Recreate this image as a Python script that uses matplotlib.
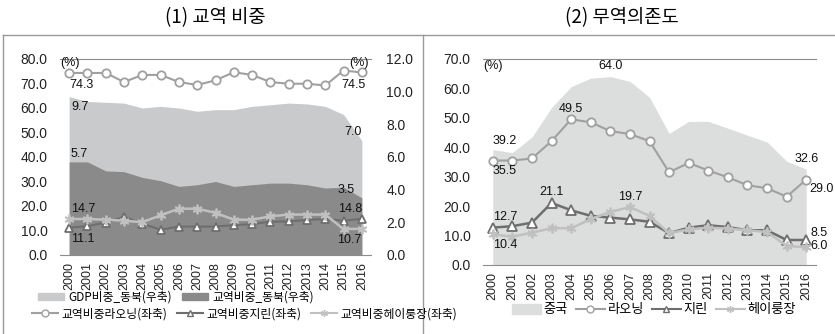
import matplotlib.pyplot as plt
from matplotlib.lines import Line2D
from matplotlib.patches import Patch

plt.rcParams['font.family'] = ['Liberation Sans', 'Noto Sans CJK KR', 'DejaVu Sans']

years = [str(y) for y in range(2000, 2017)]

# (1) 교역 비중 - 동북 3성 비중 (우축) 및 교역비중 (좌축)
gdp_share_ne = [9.7, 9.4, 9.35, 9.3, 9.0, 9.1, 9.0, 8.8, 8.9, 8.9, 9.1, 9.2, 9.3, 9.25, 9.1, 8.6, 7.0]
trade_share_ne = [5.7, 5.7, 5.15, 5.1, 4.75, 4.55, 4.2, 4.3, 4.5, 4.2, 4.3, 4.4, 4.4, 4.3, 4.1, 4.15, 3.5]
share_liaoning = [74.3, 74.3, 74.3, 70.6, 73.5, 73.5, 70.6, 69.4, 71.3, 74.6, 73.5, 70.6, 69.9, 69.9, 69.2, 75.3, 74.5]
share_jilin = [11.1, 11.8, 13.2, 15.5, 12.8, 10.3, 11.6, 11.6, 11.6, 12.2, 12.6, 13.6, 13.7, 14.3, 14.7, 14.0, 14.8]
share_heilong = [14.7, 14.7, 14.4, 14.0, 13.4, 16.2, 18.9, 18.9, 17.2, 14.4, 14.4, 15.8, 16.5, 16.5, 16.5, 10.6, 10.7]

# (2) 무역의존도
dep_china = [39.2, 38.2, 43.5, 53.5, 60.6, 63.5, 64.0, 62.4, 57.0, 44.7, 48.8, 48.8, 46.5, 44.1, 41.8, 35.3, 32.6]
dep_liaoning = [35.5, 35.5, 36.2, 42.1, 49.5, 48.5, 45.5, 44.5, 42.1, 31.5, 34.7, 32.1, 29.8, 27.1, 26.1, 23.2, 29.0]
dep_jilin = [12.7, 13.2, 14.4, 21.1, 18.6, 16.7, 16.1, 15.5, 14.7, 10.8, 12.7, 13.5, 12.9, 11.8, 11.8, 8.5, 8.5]
dep_heilong = [10.4, 9.6, 11.0, 12.5, 12.5, 15.6, 18.0, 19.7, 16.7, 10.8, 12.1, 12.7, 12.4, 11.8, 11.2, 6.5, 6.0]

W, H = 835, 334
x = list(range(len(years)))

c_light = '#c9cacc'
c_dark = '#8a8a8a'
c_china = '#dcdddd'
c_circ = '#a0a0a0'
c_tri = '#6e6e6e'
c_star = '#c0c0c0'
c_axis = '#8c8c8c'
kr = ['Noto Sans CJK KR', 'DejaVu Sans']


def px_axes(left, top, right, bottom):
    return fig.add_axes([left / W, 1 - bottom / H, (right - left) / W, (bottom - top) / H])


def style_axes(ax):
    for s in ['left', 'right']:
        ax.spines[s].set_visible(False)
    ax.spines['top'].set_color(c_axis)
    ax.spines['bottom'].set_color(c_axis)
    ax.tick_params(length=0, labelsize=10, colors='#222222')
    ax.set_xlim(-0.5, len(years) - 0.5)
    ax.set_xticks(x)
    ax.set_xticklabels(years, rotation=90, fontsize=9)
    ax.tick_params(axis='x', pad=5)


fig = plt.figure(figsize=(W / 100, H / 100), dpi=100)

# frame lines
fig.add_artist(Line2D([3 / W, 1], [1 - 35 / H, 1 - 35 / H], color='#999999', lw=1))
fig.add_artist(Line2D([3 / W, 3 / W], [0, 1 - 35 / H], color='#999999', lw=1))
fig.add_artist(Line2D([423 / W, 423 / W], [0, 1 - 35 / H], color='#999999', lw=1))

fig.text(215 / W, 1 - 18 / H, '(1) 교역 비중', ha='center', va='center', fontsize=13.5, family=kr)
fig.text(622 / W, 1 - 18 / H, '(2) 무역의존도', ha='center', va='center', fontsize=13.5, family=kr)

# ---- panel (1) ----
axr = px_axes(60, 59, 371, 255)
style_axes(axr)
axr.fill_between(x, 0, gdp_share_ne, color=c_light, lw=0)
axr.fill_between(x, 0, trade_share_ne, color=c_dark, lw=0)
axr.set_ylim(0, 12)

axl = axr.twinx()
for s in axl.spines.values():
    s.set_visible(False)
axl.set_ylim(0, 80)
axl.set_yticks(range(0, 81, 10))
axl.set_yticklabels([f'{v:.1f}' for v in range(0, 81, 10)])
axl.yaxis.tick_left()
axl.tick_params(length=0, labelsize=10, colors='#222222', pad=9)

axr.set_yticks([0, 2, 4, 6, 8, 10, 12])
axr.set_yticklabels([f'{v:.1f}' for v in [0, 2, 4, 6, 8, 10, 12]])
axr.yaxis.tick_right()
axr.tick_params(axis='y', length=0, pad=11)

axl.plot(x, share_liaoning, color=c_circ, lw=1.5, marker='o', ms=6,
         mfc='white', mec=c_circ, mew=1.3)
axl.plot(x, share_jilin, color=c_tri, lw=1.5, marker='^', ms=5.5,
         mfc='white', mec=c_tri, mew=1.3)
axl.plot(x, share_heilong, color=c_star, lw=1.8, marker=(6, 2, 0), ms=7,
         mec=c_star, mew=1.3)

lab = dict(fontsize=9, color='#111111')
axl.text(-0.5, 78.5, '(%)', ha='left', va='center', **lab)
axl.text(16.4, 78.5, '(%)', ha='right', va='center', **lab)
axl.text(0, share_liaoning[0] - 2.5, f'{share_liaoning[0]:.1f}', ha='left', va='top', **lab)
axl.text(16.2, share_liaoning[-1] - 2.5, f'{share_liaoning[-1]:.1f}', ha='right', va='top', **lab)
axr.text(0.1, gdp_share_ne[0] - 0.3, f'{gdp_share_ne[0]:.1f}', ha='left', va='top', **lab)
axr.text(16.0, gdp_share_ne[-1] + 0.15, f'{gdp_share_ne[-1]:.1f}', ha='right', va='bottom', **lab)
axr.text(0.1, trade_share_ne[0] + 0.1, f'{trade_share_ne[0]:.1f}', ha='left', va='bottom', **lab)
axr.text(15.6, trade_share_ne[-1] + 0.1, f'{trade_share_ne[-1]:.1f}', ha='right', va='bottom', **lab)
axl.text(0.1, share_heilong[0] + 1.5, f'{share_heilong[0]:.1f}', ha='left', va='bottom', **lab)
axl.text(16.0, share_jilin[-1] + 1.5, f'{share_jilin[-1]:.1f}', ha='right', va='bottom', **lab)
axl.text(0.1, share_jilin[0] - 2.0, f'{share_jilin[0]:.1f}', ha='left', va='top', **lab)
axl.text(16.0, share_heilong[-1] - 2.0, f'{share_heilong[-1]:.1f}', ha='right', va='top', **lab)

leg_font = {'family': kr, 'size': 8.5}
h1 = [Patch(color=c_light, label='GDP비중_동북(우축)'),
      Patch(color=c_dark, label='교역비중_동북(우축)')]
h2 = [Line2D([], [], color=c_circ, marker='o', mfc='white', ms=5, lw=1.5, label='교역비중라오닝(좌축)'),
      Line2D([], [], color=c_tri, marker='^', mfc='white', ms=5, lw=1.5, label='교역비중지린(좌축)'),
      Line2D([], [], color=c_star, marker=(6, 2, 0), ms=5, lw=1.5, label='교역비중헤이룽장(좌축)')]
fig.legend(handles=h1, loc='center left', bbox_to_anchor=(38 / W, 1 - 297 / H), ncol=2,
           frameon=False, prop=leg_font, handlelength=2.2, handleheight=0.6,
           handletextpad=0.4, columnspacing=0.8, borderpad=0, borderaxespad=0)
fig.legend(handles=h2, loc='center left', bbox_to_anchor=(32 / W, 1 - 314 / H), ncol=3,
           frameon=False, prop=leg_font, handlelength=2.2, handletextpad=0.3,
           columnspacing=0.8, borderpad=0, borderaxespad=0)

# ---- panel (2) ----
ax2 = px_axes(483, 59, 816, 265)
style_axes(ax2)
ax2.fill_between(x, 0, dep_china, color=c_china, lw=0)
ax2.plot(x, dep_liaoning, color=c_circ, lw=1.5, marker='o', ms=6,
         mfc='white', mec=c_circ, mew=1.3)
ax2.plot(x, dep_jilin, color=c_tri, lw=1.8, marker='^', ms=7,
         mfc='white', mec=c_tri, mew=1.3)
ax2.plot(x, dep_heilong, color=c_star, lw=1.8, marker=(6, 2, 0), ms=7,
         mec=c_star, mew=1.3)
ax2.set_ylim(0, 70)
ax2.set_yticks(range(0, 71, 10))
ax2.set_yticklabels([f'{v:.1f}' for v in range(0, 71, 10)])
ax2.tick_params(axis='y', pad=9)

ax2.text(-0.5, 67.5, '(%)', ha='left', va='center', **lab)
ax2.text(0, dep_china[0] + 1.0, f'{dep_china[0]:.1f}', ha='left', va='bottom', **lab)
ax2.text(0, dep_liaoning[0] - 1.5, f'{dep_liaoning[0]:.1f}', ha='left', va='top', **lab)
ax2.text(4, dep_liaoning[4] + 1.5, f'{dep_liaoning[4]:.1f}', ha='center', va='bottom', **lab)
ax2.text(6, dep_china[6] + 1.5, f'{dep_china[6]:.1f}', ha='center', va='bottom', **lab)
ax2.text(16, dep_china[-1] + 1.5, f'{dep_china[-1]:.1f}', ha='center', va='bottom', **lab)
ax2.text(16.15, dep_liaoning[-1] - 1.0, f'{dep_liaoning[-1]:.1f}', ha='left', va='top', **lab)
ax2.text(3, dep_jilin[3] + 1.5, f'{dep_jilin[3]:.1f}', ha='center', va='bottom', **lab)
ax2.text(0, dep_jilin[0] + 1.5, f'{dep_jilin[0]:.1f}', ha='left', va='bottom', **lab)
ax2.text(7, dep_heilong[7] + 1.5, f'{dep_heilong[7]:.1f}', ha='center', va='bottom', **lab)
ax2.text(0, dep_heilong[0] - 1.5, f'{dep_heilong[0]:.1f}', ha='left', va='top', **lab)
ax2.text(16.2, dep_jilin[-1] + 0.3, f'{dep_jilin[-1]:.1f}', ha='left', va='bottom', **lab)
ax2.text(16.2, dep_heilong[-1] + 0.3, f'{dep_heilong[-1]:.1f}', ha='left', va='center', **lab)

h3 = [Patch(color=c_china, label='중국'),
      Line2D([], [], color=c_circ, marker='o', mfc='white', ms=5, lw=1.5, label='라오닝'),
      Line2D([], [], color=c_tri, marker='^', mfc='white', ms=5, lw=1.5, label='지린'),
      Line2D([], [], color=c_star, marker=(6, 2, 0), ms=5, lw=1.5, label='헤이룽장')]
fig.legend(handles=h3, loc='center left', bbox_to_anchor=(512 / W, 1 - 310 / H), ncol=4,
           frameon=False, prop={'family': kr, 'size': 9.5},
           handlelength=2.2, handletextpad=0.2, columnspacing=0.6, borderpad=0, borderaxespad=0)

fig.savefig('out.png', dpi=100)
